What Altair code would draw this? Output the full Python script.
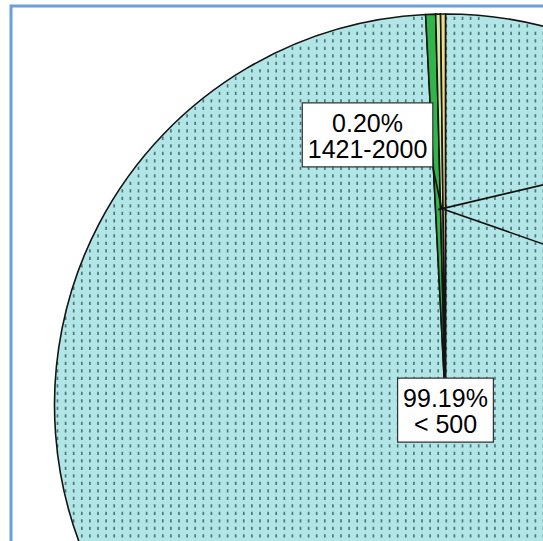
import math

import altair as alt
import pandas as pd

# ---- pie data -------------------------------------------------------------
categories = ["< 500", "500-1420", "1421-2000", "> 2000"]
shares = [99.19, 0.41, 0.20, 0.20]
colors = ["#b2e5e5", "#2fb54a", "#d6e7a2", "#efdd84"]

# label placement, polar around the pie centre:
# angle in degrees clockwise from 12 o'clock, distance as a fraction of the radius
label_angle = [180.0, 44.4, -16.1, 73.25]
label_radius = [0.013, 1.003, 0.719, 0.733]

# ---- layout ---------------------------------------------------------------
W, H = 543, 541
CX, CY, R = 445.5, 405.0, 391.0
FONT = "Liberation Sans"
FONT_SIZE = 25
LINE_H = 25.5
PAD_X, PAD_Y = 5.5, 6.5
ANCHOR_FRAC = 0.5          # where leader lines touch their slice

# hatch texture of the main slice: dashed vertical lines
HATCH_DX = 8.1
HATCH_X0 = 203.3
HATCH_Y0 = 301.7
HATCH_PERIOD = 7.5
HATCH_DASH = 3.3

# Arial-like advance widths (em) used to size the label boxes
ADV = {".": 0.278, "%": 0.889, "-": 0.333, "<": 0.584, ">": 0.584, " ": 0.278}


def text_width(s, size):
    return sum(ADV.get(ch, 0.556) for ch in s) * size


def polar(angle_deg, dist):
    a = math.radians(angle_deg)
    return CX + dist * math.sin(a), CY - dist * math.cos(a)


total = sum(shares)
pie_rows, label_rows, box_rows, leader_rows = [], [], [], []
start = 0.0
for i, (cat, share) in enumerate(zip(categories, shares)):
    span = share / total * 360.0
    mid = start + span / 2
    start += span
    pie_rows.append({"cat": cat, "share": share, "idx": i})

    text = f"{share:.2f}%\n{cat}"
    lx, ly = polar(label_angle[i], label_radius[i] * R)
    bw = max(text_width(t, FONT_SIZE) for t in text.split("\n")) + 2 * PAD_X
    bh = 2 * LINE_H + 2 * PAD_Y
    x0, x1, y0, y1 = lx - bw / 2, lx + bw / 2, ly - bh / 2, ly + bh / 2

    # leader from the slice to the nearest point of its label box;
    # a label sitting on the pie centre needs none
    if not (x0 <= CX <= x1 and y0 <= CY <= y1):
        ax, ay = polar(mid, ANCHOR_FRAC * R)
        ex, ey = min(max(ax, x0), x1), min(max(ay, y0), y1)
        leader_rows.append({"x": ax, "y": ay, "x2": ex, "y2": ey})

    # label boxes that fall beyond the right-hand frame edge are not drawn
    if x1 > W:
        continue
    # first text line sits half a line above the box centre
    label_rows.append({"x": lx, "y": ly - LINE_H / 2 + 2, "text": text})
    box_rows.append({"x": x0, "x2": x1, "y": y0, "y2": y1})

pie_df = pd.DataFrame(pie_rows)
label_df = pd.DataFrame(label_rows)
box_df = pd.DataFrame(box_rows)
leader_df = pd.DataFrame(leader_rows)

# hatch columns clipped to the circle, dashes kept on a common row grid
hatch_rows = []
k = math.ceil((CX - R - HATCH_X0) / HATCH_DX)
while True:
    x = HATCH_X0 + k * HATCH_DX
    k += 1
    if x > W + 2:
        break
    if abs(x - CX) >= R - 1:
        continue
    half = math.sqrt(R ** 2 - (x - CX) ** 2)
    top, bottom = CY - half + 1.0, CY + half - 1.0
    n = math.ceil((top - HATCH_Y0) / HATCH_PERIOD)
    y_start = HATCH_Y0 + n * HATCH_PERIOD
    hatch_rows.append({"x": x, "y": y_start, "y2": min(bottom, H + 10)})
hatch_df = pd.DataFrame(hatch_rows)

px = dict(scale=None, axis=None)

pie = alt.Chart(pie_df).encode(
    theta=alt.Theta("share:Q", stack=True),
    order=alt.Order("idx:Q"),
    color=alt.Color("cat:N", scale=alt.Scale(domain=categories, range=colors), legend=None),
    x=alt.value(CX),
    y=alt.value(CY),
)
pie_fill = pie.mark_arc(outerRadius=R, strokeWidth=0)
pie_edges = pie.mark_arc(outerRadius=R, stroke="#141414", strokeWidth=1.6).encode(
    fillOpacity=alt.condition(alt.datum.cat == "< 500", alt.value(0), alt.value(1))
)

hatch = alt.Chart(hatch_df).mark_rule(
    stroke="#4d787e", strokeWidth=1.7, strokeDash=[HATCH_DASH, HATCH_PERIOD - HATCH_DASH]
).encode(
    x=alt.X("x:Q", **px), y=alt.Y("y:Q", **px), y2="y2:Q"
)

leaders = alt.Chart(leader_df).mark_rule(stroke="#111111", strokeWidth=1.6).encode(
    x=alt.X("x:Q", **px), y=alt.Y("y:Q", **px), x2="x2:Q", y2="y2:Q"
)

boxes = alt.Chart(box_df).mark_rect(fill="white", stroke="#333333", strokeWidth=1.2).encode(
    x=alt.X("x:Q", **px), x2="x2:Q", y=alt.Y("y:Q", **px), y2="y2:Q"
)

labels = alt.Chart(label_df).mark_text(
    font=FONT, fontSize=FONT_SIZE, lineHeight=LINE_H, lineBreak="\n",
    align="center", baseline="middle", color="black",
).encode(
    x=alt.X("x:Q", **px), y=alt.Y("y:Q", **px), text="text:N"
)

frame = alt.Chart(pd.DataFrame({"k": [0]})).mark_rect(
    fillOpacity=0, stroke="#6a9fdb", strokeWidth=3
).encode(
    x=alt.value(11), y=alt.value(6), x2=alt.value(W + 20), y2=alt.value(H + 20)
)

chart = (
    alt.layer(pie_fill, hatch, pie_edges, leaders, boxes, labels, frame)
    .properties(width=W, height=H, autosize=alt.AutoSizeParams(type="none"), padding=0,
                background="white")
    .configure_view(stroke=None)
)

chart.save("out.html", embed_options={"renderer": "svg", "actions": False})
